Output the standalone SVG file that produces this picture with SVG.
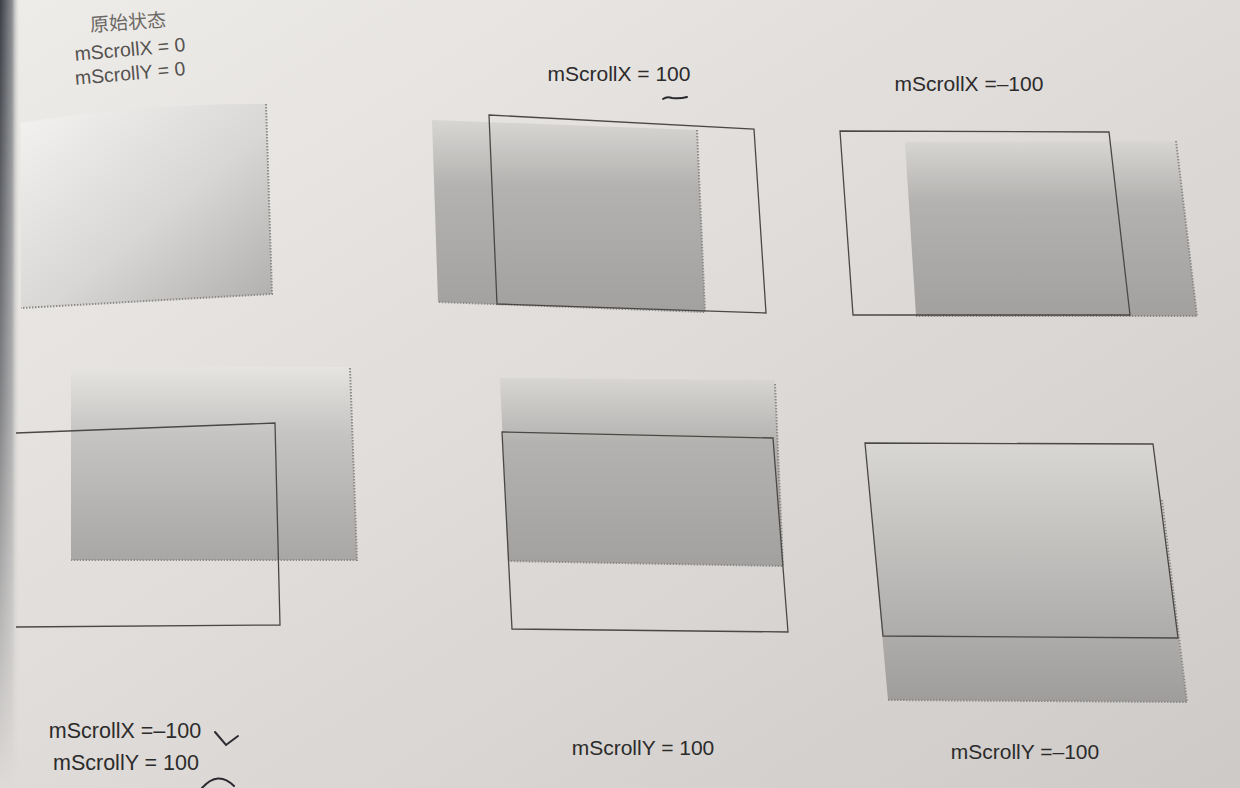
<svg xmlns="http://www.w3.org/2000/svg" width="1240" height="788" viewBox="0 0 1240 788">
<defs>
<linearGradient id="paper" x1="0" y1="0" x2="1" y2="1">
<stop offset="0" stop-color="#eeece9"/>
<stop offset="0.5" stop-color="#dedbd8"/>
<stop offset="1" stop-color="#cdcac7"/>
</linearGradient>
<linearGradient id="spine" x1="0" y1="0" x2="1" y2="0">
<stop offset="0" stop-color="#3a3d44"/>
<stop offset="0.6" stop-color="#8a8c90"/>
<stop offset="1" stop-color="#e6e4e1" stop-opacity="0"/>
</linearGradient>
<linearGradient id="spineFade" x1="0" y1="0" x2="0" y2="1">
<stop offset="0" stop-color="#fff" stop-opacity="1"/>
<stop offset="0.5" stop-color="#fff" stop-opacity="0.6"/>
<stop offset="1" stop-color="#fff" stop-opacity="0"/>
</linearGradient>
<mask id="spineMask"><rect x="0" y="0" width="20" height="788" fill="url(#spineFade)"/></mask>
<linearGradient id="g1" x1="0" y1="0" x2="1" y2="1">
<stop offset="0" stop-color="#f4f3f1"/>
<stop offset="0.55" stop-color="#d9d7d5"/>
<stop offset="1" stop-color="#b0aeac"/>
</linearGradient>
<linearGradient id="gv" x1="0" y1="0" x2="0" y2="1">
<stop offset="0" stop-color="#d8d6d3"/>
<stop offset="0.35" stop-color="#b4b2b0"/>
<stop offset="1" stop-color="#a3a1a0"/>
</linearGradient>
<linearGradient id="gv4" x1="0" y1="0" x2="0" y2="1">
<stop offset="0" stop-color="#e6e4e1"/>
<stop offset="0.35" stop-color="#c6c4c2"/>
<stop offset="1" stop-color="#a9a7a5"/>
</linearGradient>
<linearGradient id="gv6" x1="0" y1="0" x2="0" y2="1">
<stop offset="0" stop-color="#d9d7d4"/>
<stop offset="0.6" stop-color="#b7b5b3"/>
<stop offset="1" stop-color="#9f9d9c"/>
</linearGradient>
<style>
.lbl{font-family:"Liberation Sans","Open Sans",sans-serif;font-size:21px;fill:#2c2b2b;}
.sm{font-size:19.5px;fill:#55524f;}
.big{font-size:21.5px;}
.cn{font-family:"Noto Sans CJK SC","Noto Sans",sans-serif;font-size:19px;fill:#6b6864;}
.frame{fill:none;stroke:#4a4846;stroke-width:1.3;}
.dot{fill:none;stroke:#8d8b89;stroke-width:2;stroke-dasharray:1.5 1.5;}
.pen{fill:none;stroke:#2a2a30;stroke-width:2;stroke-linecap:round;}
</style>
</defs>
<rect width="1240" height="788" fill="url(#paper)"/>
<rect x="0" y="0" width="20" height="788" fill="url(#spine)" mask="url(#spineMask)"/>

<g id="origin">
<path d="M21,123 Q140,103 266,104 L272,294 L21,308 Z" fill="url(#g1)"/>
<path class="dot" d="M266,104 L272,294 L21,308"/>
<text class="cn" x="128" y="29" text-anchor="middle" transform="rotate(-4 128 22)">原始状态</text>
<text class="lbl sm" x="130" y="56" text-anchor="middle" transform="rotate(-5 130 50)">mScrollX = 0</text>
<text class="lbl sm" x="130" y="80" text-anchor="middle" transform="rotate(-5 130 73)">mScrollY = 0</text>
</g>

<g id="scrollx-pos">
<path d="M432,120 L697,130 L705,312 L438,302 Z" fill="url(#gv)"/>
<path class="dot" d="M697,130 L705,312 L438,302"/>
<path class="frame" d="M489,115 L754,129 L766,313 L497,304 Z"/>
<text class="lbl" x="619" y="81" text-anchor="middle">mScrollX = 100</text>
<path class="pen" d="M663,99 Q667,96 672,98 Q680,99 687,97"/>
</g>

<g id="scrollx-neg">
<path d="M905,142 L1176,141 L1197,316 L916,316 Z" fill="url(#gv)"/>
<path class="dot" d="M1176,141 L1197,316 L916,316"/>
<path class="frame" d="M840,131 L1109,132 L1130,315 L853,315 Z"/>
<text class="lbl" x="969" y="91" text-anchor="middle">mScrollX =–100</text>
</g>

<g id="scrollxy">
<path d="M71,367 L350,367 L357,560 L71,560 Z" fill="url(#gv4)"/>
<path class="dot" d="M350,368 L357,560 L71,560"/>
<path class="frame" d="M16,433 L275,423 L280,625 L16,627"/>
<text class="lbl big" x="125" y="738" text-anchor="middle">mScrollX =–100</text>
<text class="lbl big" x="126" y="770" text-anchor="middle">mScrollY = 100</text>
<path class="pen" d="M215,732 L226,745 L238,736"/>
<path class="pen" d="M202,788 Q218,770 234,786"/>
</g>

<g id="scrolly-pos">
<path d="M500,378 L775,380 L783,566 L508,561 Z" fill="url(#gv)"/>
<path class="dot" d="M775,384 L783,566 L508,561"/>
<path class="frame" d="M502,432 L773,438 L788,632 L512,629 Z"/>
<text class="lbl" x="643" y="755" text-anchor="middle">mScrollY = 100</text>
</g>

<g id="scrolly-neg">
<path d="M865,443 L1153,444 L1187,702 L888,700 Z" fill="url(#gv6)"/>
<path class="dot" d="M1162,500 L1187,702 L888,700"/>
<path class="frame" d="M865,443 L1153,444 L1178,638 L883,636 Z"/>
<text class="lbl" x="1025" y="759" text-anchor="middle">mScrollY =–100</text>
</g>

<g id="connectors"></g>
</svg>
